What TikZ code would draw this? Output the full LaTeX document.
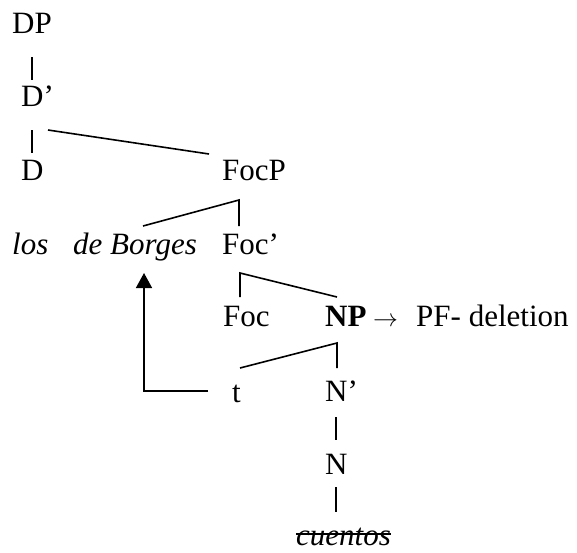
\documentclass[tikz,border=0pt]{standalone}
\usepackage{fontspec}
\setmainfont{Liberation Serif}
\usetikzlibrary{arrows.meta}
\begin{document}
\begin{tikzpicture}[x=1pt,y=-1pt,
  lbl/.style={anchor=base west,inner sep=0pt,font=\fontsize{31}{37}\selectfont},
  branch/.style={line width=1.6pt},
  move/.style={line width=1.6pt,-{Triangle[length=15pt,width=16pt]}}]
\useasboundingbox (0,0) rectangle (577,552);
% labels
\node[lbl] (DP) at (12,33) {DP};
\node[lbl] (Dbar) at (21,106) {D’};
\node[lbl] (D) at (21,180) {D};
\node[lbl] (FocP) at (222,180) {FocP};
\node[lbl] (los) at (12,254) {\itshape los};
\node[lbl] (Borges) at (73,254) {\itshape de Borges};
\node[lbl] (Focbar) at (222,254) {Foc’};
\node[lbl] (Foc) at (223,326) {Foc};
\node[lbl] (NP) at (325,326) {\bfseries NP};
\node[lbl] (arr) at (373,326) {$\rightarrow$};
\node[lbl] (PF) at (416,326) {PF- deletion};
\node[lbl] (t) at (232,402) {t};
\node[lbl] (Nbar) at (325,401) {N’};
\node[lbl] (N) at (325,474) {N};
\node[lbl] (cuentos) at (296,545) {\itshape cuentos};
% branch points
\coordinate (a1) at (32,57);  \coordinate (a2) at (32,80);
\coordinate (b1) at (32,130); \coordinate (b2) at (32,153);
\coordinate (c1) at (48,130); \coordinate (c2) at (209,154);
\coordinate (d0) at (239,200); \coordinate (dl) at (143,226); \coordinate (dr) at (239,226);
\coordinate (e0) at (240,273); \coordinate (el) at (240,297); \coordinate (er) at (337,297);
\coordinate (f0) at (337,343); \coordinate (fl) at (240,368); \coordinate (fr) at (337,368);
\coordinate (g1) at (336,417); \coordinate (g2) at (336,440);
\coordinate (h1) at (336,487); \coordinate (h2) at (336,512);
\coordinate (m0) at (208,391); \coordinate (m1) at (144,391); \coordinate (m2) at (144,273);
% branches
\draw[branch] (a1) -- (a2);
\draw[branch] (b1) -- (b2);
\draw[branch] (c1) -- (c2);
\draw[branch] (dl) -- (d0) -- (dr);
\draw[branch] (el) -- (e0) -- (er);
\draw[branch] (fl) -- (f0) -- (fr);
\draw[branch] (g1) -- (g2);
\draw[branch] (h1) -- (h2);
% movement arrow
\draw[move] (m0) -- (m1) -- (m2);
% strike-through
\draw[line width=1.5pt] ([yshift=11pt]cuentos.base west) -- ([yshift=11pt]cuentos.base east);
\end{tikzpicture}
\end{document}
